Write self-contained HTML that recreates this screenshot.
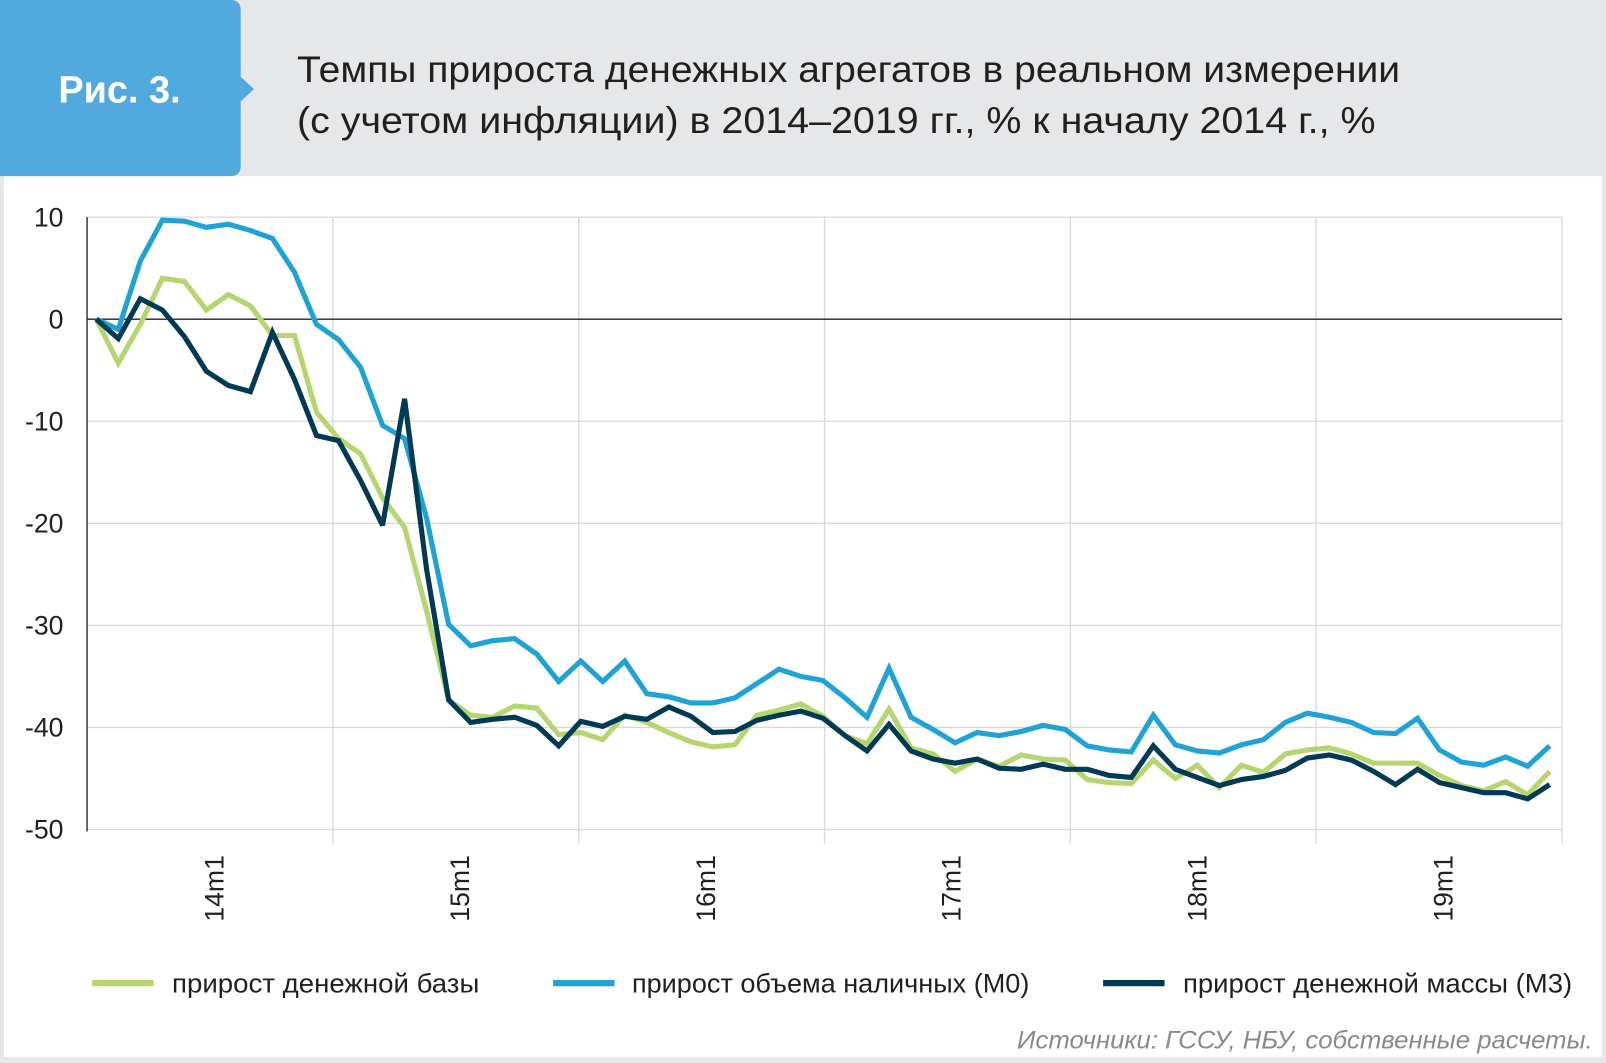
<!DOCTYPE html>
<html><head><meta charset="utf-8">
<style>
html,body{margin:0;padding:0;background:#e6e7e9;}
svg{display:block;}
text{font-family:"Liberation Sans","DejaVu Sans",sans-serif;}
</style></head>
<body>
<svg id="chart" width="1606" height="1063" viewBox="0 0 1568 1038" preserveAspectRatio="none" xmlns="http://www.w3.org/2000/svg">
  <rect x="0" y="0" width="1568" height="1038" fill="#e6e7e9"/>
  <rect x="4" y="172" width="1560" height="860" fill="#ffffff"/>
  <g>
    <path d="M0,0 H225 Q235,0 235,10 V75 L248,87 L235,99 V162 Q235,172 225,172 H0 Z" fill="#52a9de"/>
    <text x="57" y="100" font-size="37" font-weight="bold" fill="#ffffff">Рис. 3.</text>
  </g>
  <text x="290" y="80" font-size="36" fill="#231f20" textLength="1077" lengthAdjust="spacingAndGlyphs">Темпы прироста денежных агрегатов в реальном измерении</text>
  <text x="290" y="130" font-size="36" fill="#231f20" textLength="1053" lengthAdjust="spacingAndGlyphs">(с учетом инфляции) в 2014–2019 гг., % к началу 2014 г., %</text>
  <g id="grid"></g>
  <g id="yaxis"></g>
  <g id="xaxis"></g>
  <g id="series"></g>
  <g>
    <g>
      <line x1="90" y1="960" x2="150" y2="960" stroke="#b5d56f" stroke-width="6"/>
      <text x="168" y="969" font-size="26" fill="#231f20" textLength="300" lengthAdjust="spacingAndGlyphs">прирост денежной базы</text>
    </g>
    <g>
      <line x1="540" y1="960" x2="600" y2="960" stroke="#1fa3d6" stroke-width="6"/>
      <text x="617" y="969" font-size="26" fill="#231f20" textLength="388" lengthAdjust="spacingAndGlyphs">прирост объема наличных (М0)</text>
    </g>
    <g>
      <line x1="1077" y1="960" x2="1137" y2="960" stroke="#003a55" stroke-width="6"/>
      <text x="1155" y="969" font-size="26" fill="#231f20" textLength="380" lengthAdjust="spacingAndGlyphs">прирост денежной массы (М3)</text>
    </g>
  </g>
  <text x="1555" y="1024" font-size="24" font-style="italic" fill="#8a8a8a" text-anchor="end" textLength="562" lengthAdjust="spacingAndGlyphs">Источники: ГССУ, НБУ, собственные расчеты.</text>
</svg>
<script>
const yTicks = [10, 0, -10, -20, -30, -40, -50];
const xTickLabels = ["14m1", "15m1", "16m1", "17m1", "18m1", "19m1"];
const moneyBase = [0,-4.3,-0.5,4.0,3.7,0.9,2.4,1.3,-1.6,-1.6,-9.1,-11.7,-13.2,-17.5,-20.4,-28.6,-37.3,-38.8,-39.0,-37.9,-38.1,-40.7,-40.5,-41.2,-38.8,-39.5,-40.5,-41.4,-41.9,-41.7,-38.8,-38.3,-37.7,-38.9,-40.8,-41.6,-38.2,-42.0,-42.6,-44.3,-43.1,-43.8,-42.7,-43.1,-43.2,-45.1,-45.4,-45.5,-43.2,-45.0,-43.7,-45.9,-43.7,-44.4,-42.6,-42.2,-42.0,-42.6,-43.5,-43.5,-43.5,-44.7,-45.7,-46.2,-45.3,-46.6,-44.3];
const cashM0 = [0,-1.0,5.7,9.7,9.6,9.0,9.3,8.7,7.9,4.6,-0.5,-2.0,-4.7,-10.4,-11.7,-19.5,-29.9,-32.0,-31.5,-31.3,-32.8,-35.5,-33.5,-35.5,-33.5,-36.7,-37.0,-37.6,-37.6,-37.1,-35.7,-34.3,-35.0,-35.4,-37.1,-39.0,-34.2,-39.0,-40.2,-41.5,-40.5,-40.8,-40.4,-39.8,-40.2,-41.8,-42.2,-42.4,-38.8,-41.7,-42.3,-42.5,-41.7,-41.2,-39.5,-38.6,-39.0,-39.5,-40.5,-40.6,-39.1,-42.2,-43.4,-43.7,-42.9,-43.8,-41.8];
const moneySupplyM3 = [0,-1.9,2.0,0.9,-1.7,-5.1,-6.5,-7.1,-1.3,-5.9,-11.4,-11.9,-15.8,-20.2,-7.8,-24.5,-37.3,-39.5,-39.2,-39.0,-39.8,-41.8,-39.4,-39.9,-38.9,-39.2,-38.0,-38.9,-40.5,-40.4,-39.3,-38.8,-38.4,-39.1,-40.8,-42.3,-39.7,-42.3,-43.1,-43.5,-43.1,-44.0,-44.1,-43.6,-44.1,-44.1,-44.7,-44.9,-41.8,-44.1,-44.9,-45.7,-45.1,-44.8,-44.2,-43.0,-42.7,-43.2,-44.3,-45.6,-44.1,-45.4,-45.9,-46.4,-46.4,-47.0,-45.6];

const NS = "http://www.w3.org/2000/svg";
const plotL = 85, plotR = 1525, yTop = 212, yBot = 810;
const yMin = -50, yMax = 10;
function yScale(v){ return yBot - (v - yMin) / (yMax - yMin) * (yBot - yTop); }
function xScale(i){ return 94 + i * (1419 / 66); }
function mk(tag, attrs, parent){ const e = document.createElementNS(NS, tag); for (const k in attrs) e.setAttribute(k, attrs[k]); parent.appendChild(e); return e; }

const grid = document.getElementById('grid');
yTicks.forEach(t => {
  if (t === 0) return;
  const l = mk('line', {x1: plotL, x2: plotR, y1: yScale(t), y2: yScale(t), stroke: '#d9d9d9', 'stroke-width': 1.3}, grid);
  
  
});
for (let k = 1; k <= 6; k++) {
  const gx = plotL + k * 240;
  const l = mk('line', {x1: gx, x2: gx, y1: yTop, y2: yBot + 14, stroke: '#d9d9d9', 'stroke-width': 1.3}, grid);
  
  
}
const yAxisLine = mk('line', {x1: plotL, x2: plotL, y1: yTop, y2: yBot + 2, stroke: '#231f20', 'stroke-width': 1.3}, grid);


const zeroLine = mk('line', {x1: plotL, x2: plotR, y1: yScale(0), y2: yScale(0), stroke: '#231f20', 'stroke-width': 1.3}, grid);



const yaxis = document.getElementById('yaxis');
yTicks.forEach(t => {
  const tx = mk('text', {x: 62, y: yScale(t) + 9, 'font-size': 26, fill: '#231f20', 'text-anchor': 'end'}, yaxis);
  tx.textContent = String(t);
  
  
});

const xaxis = document.getElementById('xaxis');
xTickLabels.forEach((lab, k) => {
  const cx = 218 + k * 240;
  const tx = mk('text', {x: 0, y: 0, 'font-size': 26, fill: '#231f20', transform: `translate(${cx},900) rotate(-90)`}, xaxis);
  tx.textContent = lab;
  
  
});

const series = document.getElementById('series');
function drawLine(vals, color, name){
  const d = vals.map((v, i) => (i ? 'L' : 'M') + xScale(i).toFixed(1) + ',' + yScale(v).toFixed(1)).join(' ');
  const p = mk('path', {d: d, fill: 'none', stroke: color, 'stroke-width': 5, 'stroke-linejoin': 'miter', 'stroke-miterlimit': 3}, series);
  
  
}
drawLine(cashM0, '#1fa3d6', 'line-cash-m0');
drawLine(moneyBase, '#b5d56f', 'line-money-base');
drawLine(moneySupplyM3, '#003a55', 'line-money-supply-m3');
// re-draw green on top where it overlaps in later period (reference shows green above dark)
</script>
</body></html>
